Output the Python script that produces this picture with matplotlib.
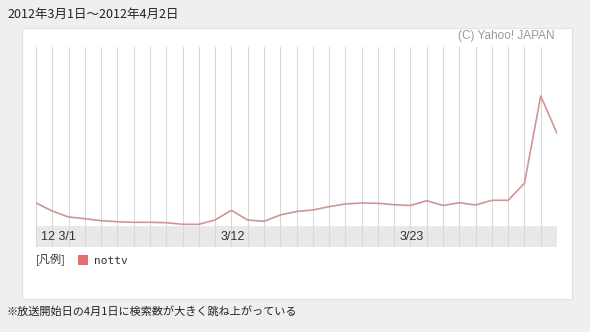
import matplotlib
matplotlib.use("Agg")
import matplotlib.pyplot as plt
from matplotlib.patches import Rectangle
from matplotlib.transforms import offset_copy

# ── Data (search volume index) ───────────────────────────────────
day_index = list(range(33))                 # 3/1 .. 4/2
nottv = [23, 15, 9, 7.3, 5.3, 4.3, 3.7, 3.7, 3.3, 1.7, 1.7,
         6, 15.7, 6, 4.7, 11, 14.5, 16, 19.3, 22, 23, 22.7,
         21.3, 20.5, 25.3, 20.5, 23.3, 21, 25.7, 25.7, 42.7, 130, 92.7]
tick_pos = [0, 11, 22]
tick_labels = ["12 3/1", "3/12", "3/23"]

title = "2012年3月1日～2012年4月2日"
note = "※放送開始日の4月1日に検索数が大きく跳ね上がっている"
credit = "(C) Yahoo! JAPAN"
series_name = "nottv"

# ── Figure setup ────────────────────────────────────────────────
plt.rcParams["font.family"] = ["Noto Sans CJK JP", "DejaVu Sans"]
W, H = 590, 332
fig = plt.figure(figsize=(W / 100, H / 100), dpi=100)
fig.patch.set_facecolor("#efefef")


def fx(px):
    return px / W


def fy(py):
    return 1 - py / H


# white panel (behind the axes)
fig.patches.append(Rectangle((fx(22), fy(299)), fx(550), 271 / H,
                             transform=fig.transFigure, facecolor="white",
                             edgecolor="#e2e2e2", linewidth=0.8, zorder=-5))

# plot area (line area + grey date band)
ax = fig.add_axes([fx(36), fy(247), fx(521), 200 / H])
ax.set_zorder(1)
ax.set_facecolor("none")
ax.set_xlim(0, 32)
ax.set_ylim(-21, 179)
ax.set_axisbelow(True)
ax.axhspan(-21, 0, color="#e8e8e8", zorder=0.2, linewidth=0)
ax.set_xticks(day_index)
ax.grid(axis="x", color="#d8d8d8", linewidth=0.75)
ax.set_yticks([])
ax.tick_params(length=0, labelbottom=False)
for s in ax.spines.values():
    s.set_visible(False)

ax.plot(day_index, nottv, color="#d39494", linewidth=1.2, zorder=3)

lbl_tr = offset_copy(ax.transData, fig=fig, x=5, y=0, units="dots")
for pos, lbl in zip(tick_pos, tick_labels):
    ax.text(pos, -10.5, lbl, transform=lbl_tr, ha="left", va="center",
            fontsize=9, color="#333333", family=["Liberation Sans", "DejaVu Sans"])

# texts
fig.text(fx(7), fy(14), title, fontsize=9, color="#222222", va="center")
fig.text(fx(555), fy(36), credit, fontsize=8.5, color="#999999", ha="right",
         va="center", family=["Liberation Sans", "DejaVu Sans"])
fig.text(fx(36), fy(260), "[凡例]", fontsize=8, color="#333333", va="center")
fig.patches.append(Rectangle((fx(78), fy(265)), fx(10), 10 / H,
                             transform=fig.transFigure, facecolor="#e96c6c",
                             edgecolor="none"))
fig.text(fx(94), fy(261), series_name, fontsize=8, color="#333333", va="center",
         family=["DejaVu Sans Mono"])
fig.text(fx(7), fy(311), note, fontsize=8, color="#222222", va="center")

fig.savefig("out.png", dpi=100)
